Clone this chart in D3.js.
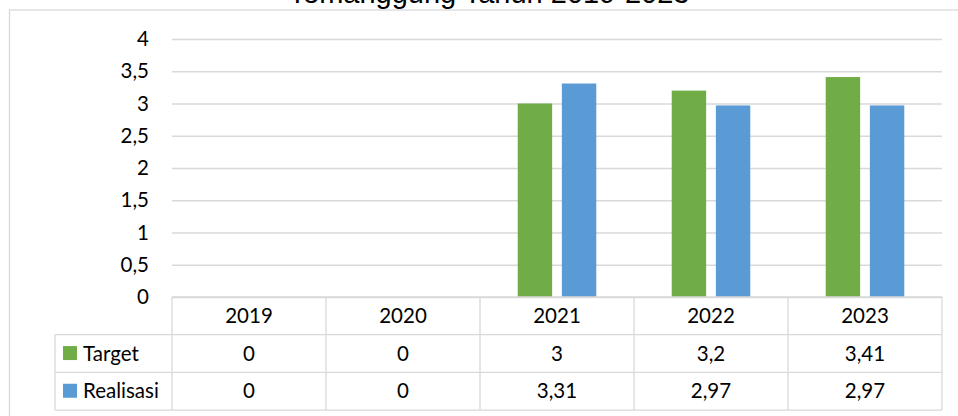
<!DOCTYPE html>
<html lang="id">

<head>
    <meta charset="UTF-8">
    <title>Target dan Realisasi</title>
    <script src="https://d3js.org/d3.v7.min.js"></script>
    <style>
        body { margin: 0; background: #fff; }
        svg text { font-family: Lato, "Open Sans", sans-serif; fill: #000; }
    </style>
</head>

<body>
    <svg id="svg" width="958" height="416"></svg>
</body>
<script>
    const years = ["2019", "2020", "2021", "2022", "2023"];
    const seriesNames = ["Target", "Realisasi"];
    const target = [0, 0, 3, 3.2, 3.41];
    const realisasi = [0, 0, 3.31, 2.97, 2.97];
    const yTicks = [0, 0.5, 1, 1.5, 2, 2.5, 3, 3.5, 4];
    const colors = ["#70ad47", "#5b9bd5"];
    const title = "Temanggung Tahun 2019-2023";

    const values = [target, realisasi];
    const grid = "#d9d9d9";
    const fontSize = "20.5px";
    const svg = d3.select("#svg");

    // comma as decimal separator
    const locale = d3.formatLocale({ decimal: ",", thousands: ".", grouping: [3], currency: ["Rp", ""] });
    const fmt = locale.format("~f");

    const plotLeft = 172, plotRight = 942, plotTop = 39, plotBottom = 297;
    const rowH = 37.7;
    const legendLeft = 55;

    const x = d3.scaleBand().domain(years).range([plotLeft, plotRight]);
    const xs = d3.scaleBand().domain(seriesNames).range([0, x.bandwidth()])
        .paddingInner(0.22).paddingOuter(0.855);
    const y = d3.scaleLinear().domain([0, 4]).range([plotBottom, plotTop]);

    // chart area border (title sits above it, cut off)
    svg.append("rect")
        .attr("x", 9.5).attr("y", 10)
        .attr("width", 960).attr("height", 420)
        .attr("fill", "none").attr("stroke", grid).attr("stroke-width", 1.3);

    svg.append("text")
        .attr("x", 489).attr("y", 3)
        .attr("text-anchor", "middle")
        .style("font-family", "'Liberation Sans', Arial, sans-serif")
        .style("font-size", "29px")
        .text(title);

    // y axis with gridlines
    const yAxis = svg.append("g")
        .attr("transform", `translate(${plotLeft},0)`)
        .call(d3.axisLeft(y).tickValues(yTicks).tickFormat(fmt)
            .tickSize(-(plotRight - plotLeft)).tickPadding(23));
    yAxis.select(".domain").remove();
    yAxis.selectAll(".tick line").attr("stroke", grid).attr("stroke-width", 1.3);
    yAxis.selectAll(".tick text")
        .style("font-family", "Lato, 'Open Sans', sans-serif")
        .style("font-size", fontSize)
        .attr("fill", "#000");

    // bars
    seriesNames.forEach((s, si) => {
        svg.append("g").selectAll("rect")
            .data(years.map((yr, i) => ({ yr, v: values[si][i] })))
            .join("rect")
            .attr("x", d => x(d.yr) + xs(s))
            .attr("y", d => y(d.v))
            .attr("width", xs.bandwidth())
            .attr("height", d => y(0) - y(d.v))
            .attr("fill", colors[si]);
    });

    // data table under the plot
    const table = svg.append("g")
        .attr("stroke", grid).attr("stroke-width", 1.3).attr("fill", "none");
    const tableBottom = plotBottom + rowH * 3;
    // horizontal lines
    table.append("line").attr("x1", plotLeft).attr("x2", plotRight).attr("y1", plotBottom).attr("y2", plotBottom);
    [1, 2, 3].forEach(r => {
        table.append("line")
            .attr("x1", legendLeft).attr("x2", plotRight)
            .attr("y1", plotBottom + rowH * r).attr("y2", plotBottom + rowH * r);
    });
    // vertical lines
    table.append("line").attr("x1", legendLeft).attr("x2", legendLeft)
        .attr("y1", plotBottom + rowH).attr("y2", tableBottom);
    years.forEach(yr => {
        table.append("line").attr("x1", x(yr)).attr("x2", x(yr))
            .attr("y1", plotBottom).attr("y2", tableBottom);
    });
    table.append("line").attr("x1", plotRight).attr("x2", plotRight)
        .attr("y1", plotBottom).attr("y2", tableBottom);

    const cellText = svg.append("g")
        .style("font-size", fontSize)
        .attr("text-anchor", "middle");

    cellText.selectAll("text.year")
        .data(years)
        .join("text")
        .attr("class", "year")
        .attr("x", d => x(d) + x.bandwidth() / 2)
        .attr("y", plotBottom + rowH / 2)
        .attr("dy", "0.35em")
        .text(d => d);

    seriesNames.forEach((s, si) => {
        const cy = plotBottom + rowH * (si + 1) + rowH / 2;
        cellText.append("g").selectAll("text")
            .data(values[si])
            .join("text")
            .attr("x", (d, i) => x(years[i]) + x.bandwidth() / 2)
            .attr("y", cy)
            .attr("dy", "0.35em")
            .text(d => fmt(d));

        svg.append("rect")
            .attr("x", 63).attr("y", cy - 7.5)
            .attr("width", 14).attr("height", 14)
            .attr("fill", colors[si]);
        svg.append("text")
            .attr("x", 83).attr("y", cy)
            .attr("dy", "0.35em")
            .style("font-size", fontSize)
            .text(s);
    });
</script>

</html>
